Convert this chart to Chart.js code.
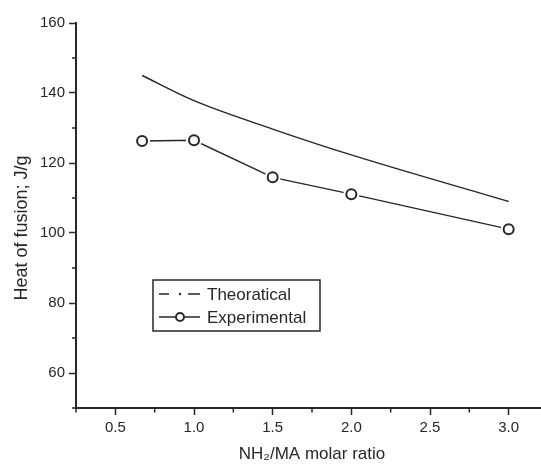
<!DOCTYPE html>
<html>
<head>
<meta charset="utf-8">
<script src="https://cdn.jsdelivr.net/npm/chart.js@4.4.1/dist/chart.umd.min.js"></script>
<style>
    html, body { margin: 0; padding: 0; background: #fff; overflow: hidden; }
    canvas { display: block; }
</style>
</head>
<body>
<canvas id="chart" width="556" height="466"></canvas>
<script>
const ratios = [0.67, 1.0, 1.5, 2.0, 3.0];
const theoretical = [145.0, 137.8, 129.7, 122.3, 109.0];
const experimental = [126.3, 126.5, 115.9, 111.1, 101.1];
const xMajorTicks = [0.5, 1.0, 1.5, 2.0, 2.5, 3.0];
const xMinorTicks = [0.25, 0.75, 1.25, 1.75, 2.25, 2.75, 3.25];
const yMajorTicks = [60, 80, 100, 120, 140, 160];
const yMinorTicks = [50, 70, 90, 110, 130, 150];

const ink = '#2a2627';
const fontFamily = '"Liberation Sans", Arial, Helvetica, sans-serif';

const toPoints = values => values.map((v, i) => ({ x: ratios[i], y: v }));

// minor ticks, y title and the boxed legend
const extras = {
    id: 'extras',
    afterDraw(chart) {
        const { ctx, scales: { x, y } } = chart;
        ctx.save();
        ctx.strokeStyle = ink;
        ctx.lineWidth = 1.5;
        ctx.beginPath();
        yMinorTicks.forEach(v => {
            const py = y.getPixelForValue(v);
            ctx.moveTo(x.left - 4, py);
            ctx.lineTo(x.left, py);
        });
        xMinorTicks.forEach(v => {
            const px = x.getPixelForValue(v);
            ctx.moveTo(px, y.bottom);
            ctx.lineTo(px, y.bottom + 4.5);
        });
        ctx.stroke();

        // y axis title
        ctx.fillStyle = ink;
        ctx.font = '18px ' + fontFamily;
        ctx.textAlign = 'center';
        ctx.textBaseline = 'alphabetic';
        ctx.translate(27, 228);
        ctx.rotate(-Math.PI / 2);
        ctx.fillText('Heat of fusion; J/g', 0, 0);
        ctx.restore();

        // legend
        ctx.save();
        ctx.strokeStyle = ink;
        ctx.fillStyle = ink;
        ctx.lineWidth = 1.5;
        ctx.strokeRect(153, 280, 167, 51);

        const ds = chart.data.datasets;
        ctx.font = '17px ' + fontFamily;
        ctx.textBaseline = 'middle';
        ctx.textAlign = 'left';

        // theoretical: dash-dot sample
        ctx.lineWidth = 1.3;
        ctx.beginPath();
        ctx.moveTo(159, 294); ctx.lineTo(169, 294);
        ctx.moveTo(188, 294); ctx.lineTo(200, 294);
        ctx.stroke();
        ctx.beginPath();
        ctx.arc(180, 294, 1.2, 0, Math.PI * 2);
        ctx.fill();
        ctx.fillText(ds[0].label, 207, 295);

        // experimental: line with circle
        ctx.beginPath();
        ctx.moveTo(159, 317); ctx.lineTo(175, 317);
        ctx.moveTo(185, 317); ctx.lineTo(200, 317);
        ctx.stroke();
        ctx.lineWidth = 2;
        ctx.beginPath();
        ctx.arc(180, 317, 4, 0, Math.PI * 2);
        ctx.stroke();
        ctx.fillText(ds[2].label, 207, 318);
        ctx.restore();
    }
};

new Chart(document.getElementById('chart'), {
    type: 'line',
    data: {
        datasets: [
            {
                label: 'Theoratical',
                data: toPoints(theoretical),
                borderColor: ink,
                borderWidth: 1.4,
                pointRadius: 0,
                cubicInterpolationMode: 'monotone',
                order: 3
            },
            {
                label: 'Experimental line',
                data: toPoints(experimental),
                borderColor: ink,
                borderWidth: 1.4,
                pointRadius: 8,
                pointBorderWidth: 0,
                pointBackgroundColor: '#fff',
                order: 2
            },
            {
                label: 'Experimental',
                data: toPoints(experimental),
                showLine: false,
                pointRadius: 5,
                pointBorderWidth: 2,
                pointBorderColor: ink,
                pointBackgroundColor: '#fff',
                order: 1
            }
        ]
    },
    options: {
        responsive: false,
        animation: false,
        layout: { padding: { top: 23, right: 4, left: 0, bottom: 0 } },
        plugins: {
            legend: { display: false },
            tooltip: { enabled: false }
        },
        scales: {
            x: {
                type: 'linear',
                min: 0.25,
                max: 3.25,
                afterBuildTicks: scale => { scale.ticks = xMajorTicks.map(v => ({ value: v })); },
                afterFit: scale => { scale.height = 58; },
                border: { display: true, color: ink, width: 2 },
                grid: { drawOnChartArea: false, drawTicks: true, tickLength: 7, tickColor: ink, tickWidth: 1.5 },
                ticks: {
                    color: ink,
                    padding: 4,
                    font: { family: fontFamily, size: 15 },
                    callback: v => v.toFixed(1)
                },
                title: {
                    display: true,
                    text: 'NH\u2082/MA molar ratio',
                    color: ink,
                    font: { family: fontFamily, size: 17 },
                    padding: { top: 0, bottom: 1 }
                }
            },
            y: {
                min: 50,
                max: 160,
                afterBuildTicks: scale => { scale.ticks = yMajorTicks.map(v => ({ value: v })); },
                afterFit: scale => { scale.width = 76; },
                border: { display: true, color: ink, width: 2 },
                grid: { drawOnChartArea: false, drawTicks: true, tickLength: 7, tickColor: ink, tickWidth: 1.5 },
                ticks: {
                    color: ink,
                    padding: 4,
                    font: { family: fontFamily, size: 15 }
                }
            }
        }
    },
    plugins: [extras]
});
</script>
</body>
</html>
